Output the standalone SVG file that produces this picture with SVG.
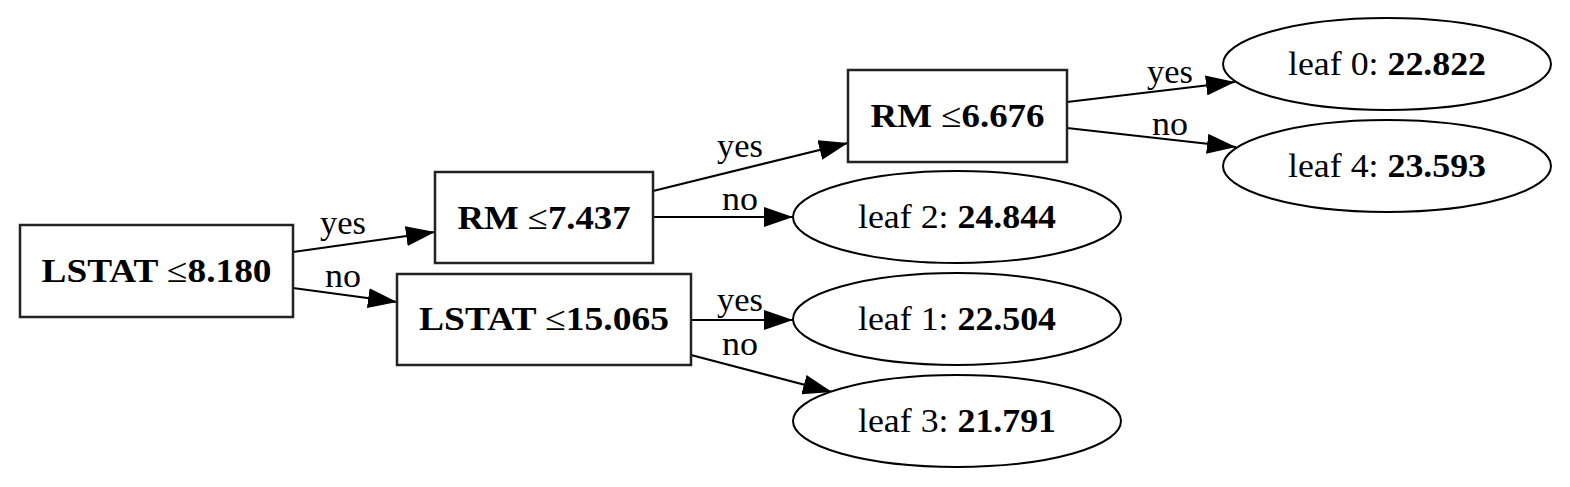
<svg xmlns="http://www.w3.org/2000/svg" width="1570" height="487" viewBox="0 0 1570 487">
<style>
text{font-family:"Liberation Serif","Times New Roman",serif;font-size:34px;fill:#000;text-anchor:middle}
.b{font-weight:bold}
.n{font-weight:normal}
.box{fill:#fff;stroke:#222;stroke-width:2.5}
.leaf{fill:#fff;stroke:#000;stroke-width:2}
.edge{fill:none;stroke:#000;stroke-width:2.2}
</style>
<defs>
<marker id="arr" markerUnits="userSpaceOnUse" markerWidth="29" markerHeight="20" viewBox="0 0 29 20" refX="29" refY="10" orient="auto">
<polygon points="0,0 29,10 0,20" fill="#000"/>
</marker>
</defs>
<rect width="1570" height="487" fill="#fff"/>
<g id="connectors">
<path class="edge" d="M293,252 L435,232" marker-end="url(#arr)"/>
<path class="edge" d="M293,288 L397,302" marker-end="url(#arr)"/>
<path class="edge" d="M653,191 L848,143" marker-end="url(#arr)"/>
<path class="edge" d="M653,217 L793,217" marker-end="url(#arr)"/>
<path class="edge" d="M691,320 L793,320" marker-end="url(#arr)"/>
<path class="edge" d="M691,355 L832,392" marker-end="url(#arr)"/>
<path class="edge" d="M1067,102 L1235,82" marker-end="url(#arr)"/>
<path class="edge" d="M1067,128 L1236,147" marker-end="url(#arr)"/>
<text x="343" y="234" textLength="46" lengthAdjust="spacingAndGlyphs">yes</text>
<text x="343" y="287" textLength="36" lengthAdjust="spacingAndGlyphs">no</text>
<text x="740" y="157" textLength="46" lengthAdjust="spacingAndGlyphs">yes</text>
<text x="740" y="210" textLength="36" lengthAdjust="spacingAndGlyphs">no</text>
<text x="740" y="311" textLength="46" lengthAdjust="spacingAndGlyphs">yes</text>
<text x="740" y="355" textLength="36" lengthAdjust="spacingAndGlyphs">no</text>
<text x="1170" y="83" textLength="46" lengthAdjust="spacingAndGlyphs">yes</text>
<text x="1170" y="135" textLength="36" lengthAdjust="spacingAndGlyphs">no</text>
</g>
<g id="node-lstat8">
<rect class="box" x="20" y="225" width="273" height="92"/>
<text x="156.5" y="282" class="b" textLength="230" lengthAdjust="spacingAndGlyphs">LSTAT <tspan class="n">≤</tspan>8.180</text>
</g>
<g id="node-rm7">
<rect class="box" x="435" y="172" width="218" height="91"/>
<text x="544" y="229" class="b" textLength="173" lengthAdjust="spacingAndGlyphs">RM <tspan class="n">≤</tspan>7.437</text>
</g>
<g id="node-lstat15">
<rect class="box" x="397" y="274" width="294" height="91"/>
<text x="544" y="330" class="b" textLength="250" lengthAdjust="spacingAndGlyphs">LSTAT <tspan class="n">≤</tspan>15.065</text>
</g>
<g id="node-rm6">
<rect class="box" x="848" y="70" width="219" height="92"/>
<text x="957.5" y="127" class="b" textLength="174" lengthAdjust="spacingAndGlyphs">RM <tspan class="n">≤</tspan>6.676</text>
</g>
<g id="leaf0">
<ellipse class="leaf" cx="1387" cy="64" rx="164" ry="46"/>
<text x="1387" y="75" textLength="198" lengthAdjust="spacingAndGlyphs">leaf 0: <tspan class="b">22.822</tspan></text>
</g>
<g id="leaf4">
<ellipse class="leaf" cx="1387" cy="166" rx="164" ry="46"/>
<text x="1387" y="177" textLength="198" lengthAdjust="spacingAndGlyphs">leaf 4: <tspan class="b">23.593</tspan></text>
</g>
<g id="leaf2">
<ellipse class="leaf" cx="957" cy="217" rx="164" ry="46"/>
<text x="957" y="228" textLength="198" lengthAdjust="spacingAndGlyphs">leaf 2: <tspan class="b">24.844</tspan></text>
</g>
<g id="leaf1">
<ellipse class="leaf" cx="957" cy="319" rx="164" ry="46"/>
<text x="957" y="330" textLength="198" lengthAdjust="spacingAndGlyphs">leaf 1: <tspan class="b">22.504</tspan></text>
</g>
<g id="leaf3">
<ellipse class="leaf" cx="957" cy="421" rx="164" ry="46"/>
<text x="957" y="432" textLength="198" lengthAdjust="spacingAndGlyphs">leaf 3: <tspan class="b">21.791</tspan></text>
</g>
</svg>
